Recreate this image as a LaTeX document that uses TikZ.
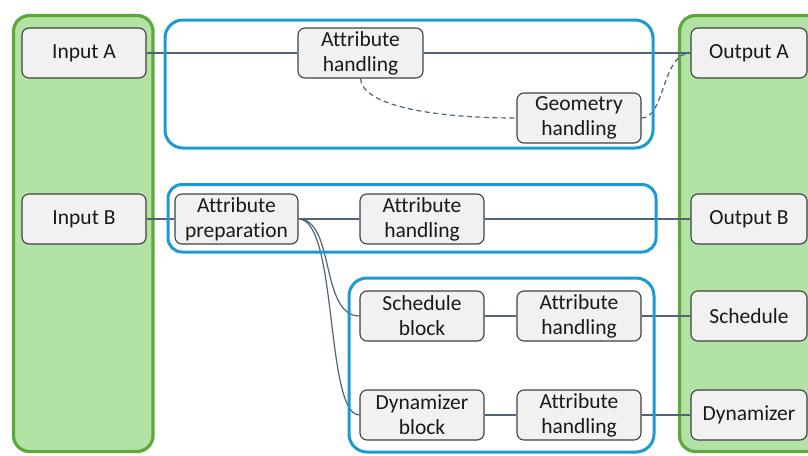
\documentclass[tikz,border=0pt]{standalone}
\usepackage{fontspec}
\setmainfont{Carlito}[Ligatures=NoCommon]
\definecolor{gfill}{HTML}{B3E2A5}
\definecolor{gline}{HTML}{5BA83C}
\definecolor{bline}{HTML}{1C9AD6}
\definecolor{bxfill}{HTML}{F1F1F1}
\definecolor{bxline}{HTML}{404040}
\definecolor{conn}{HTML}{4F6478}
\pgfdeclarelayer{bg}
\pgfdeclarelayer{mid}
\pgfsetlayers{bg,mid,main}
\begin{document}
\begin{tikzpicture}[x=1pt,y=-1pt,
  panel/.style={draw=gline,fill=gfill,line width=3.2pt,rounded corners=16pt},
  group/.style={draw=bline,line width=3pt,rounded corners=18pt},
  box/.style={draw=bxline,fill=bxfill,line width=1.1pt,rounded corners=7pt,
    minimum height=50pt,inner sep=0pt,align=center,
    font=\fontsize{21.5}{25}\selectfont,text=black!90},
  io/.style={box,minimum width=124pt},
  oo/.style={box,minimum width=116pt},
  blk/.style={box,minimum width=124pt},
  conn/.style={draw=conn,line width=1.2pt},
  dconn/.style={conn,dash pattern=on 5pt off 3.5pt}]
\useasboundingbox (0,0) rectangle (808,455);
\clip (0,0) rectangle (808,455);
% nodes
\node[io] (inA) at (84,53) {Input A};
\node[io] (inB) at (84,219) {Input B};
\node[box,minimum width=125pt] (ah1) at (360.5,53) {Attribute\\handling};
\node[blk] (geo) at (579,118) {Geometry\\handling};
\node[oo] (outA) at (749,53) {Output A};
\node[box,minimum width=123pt] (ap) at (236.5,219) {Attribute\\preparation};
\node[blk] (ah2) at (422,219) {Attribute\\handling};
\node[oo] (outB) at (749,219) {Output B};
\node[blk] (sb) at (422,316) {Schedule\\block};
\node[blk] (ah3) at (579,316) {Attribute\\handling};
\node[oo] (sch) at (749,316) {Schedule};
\node[blk] (dyb) at (422,415) {Dynamizer\\block};
\node[blk] (ah4) at (579,415) {Attribute\\handling};
\node[oo] (dyn) at (749,415) {Dynamizer};
% panels
\begin{pgfonlayer}{bg}
\draw[panel] (13.5,15.5) rectangle (153,451.5);
\draw[panel] (679.5,15.5) rectangle (840,451.5);
\end{pgfonlayer}
% connectors and groups
\begin{pgfonlayer}{mid}
\path[conn] (inA.east) -- (ah1.west) (ah1.east) -- (outA.west);
\path[dconn] (ah1.south) .. controls (362,105) and (430,118) .. (geo.west);
\path[dconn] (geo.east) .. controls (665,118) and (662,53) .. (outA.west);
\path[conn] (inB.east) -- (ap.west) (ap.east) -- (ah2.west) (ah2.east) -- (outB.west);
\path[conn] (ap.east) .. controls (335,219) and (320,316) .. (sb.west);
\path[conn] (ap.east) .. controls (338,219) and (325,415) .. (dyb.west);
\path[conn] (sb.east) -- (ah3.west) (ah3.east) -- (sch.west);
\path[conn] (dyb.east) -- (ah4.west) (ah4.east) -- (dyn.west);
\draw[group] (165,20) rectangle (653,148);
\draw[group,rounded corners=14pt] (168,184.5) rectangle (656,252);
\draw[group] (349,278) rectangle (654,452);
\end{pgfonlayer}
\end{tikzpicture}
\end{document}
